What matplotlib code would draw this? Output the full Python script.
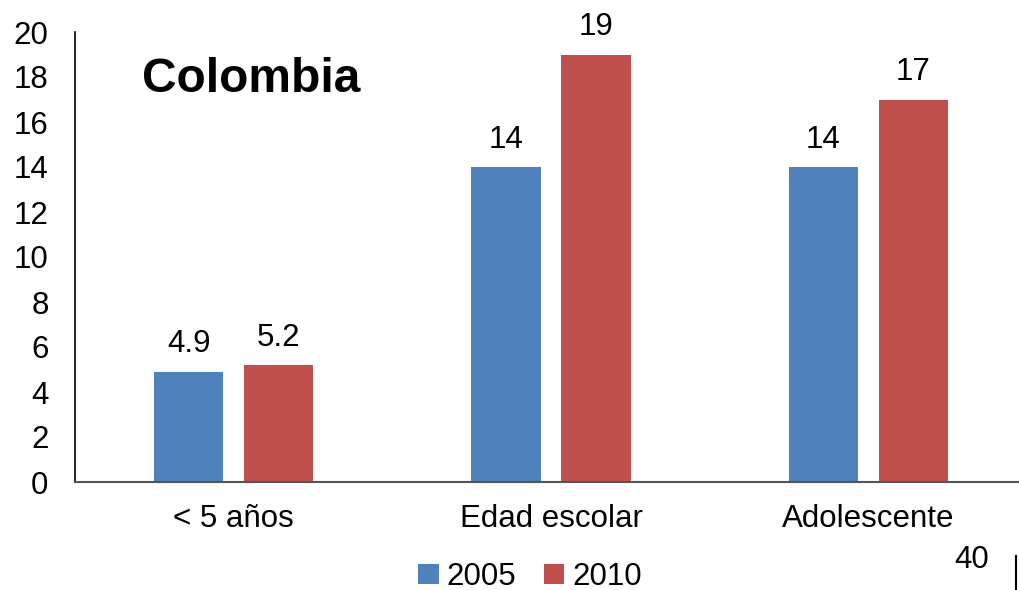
import matplotlib
matplotlib.use("Agg")
import matplotlib.pyplot as plt
import numpy as np

plt.rcParams['font.family'] = ['Liberation Sans', 'DejaVu Sans']

categories = ["< 5 años", "Edad escolar", "Adolescente"]
series_names = ["2005", "2010"]
values_2005 = [4.9, 14, 14]
values_2010 = [5.2, 19, 17]
labels_2005 = ["4.9", "14", "14"]
labels_2010 = ["5.2", "19", "17"]
colors = ["#4F81BD", "#C0504D"]

FS = 22.5
fig = plt.figure(figsize=(10.19, 5.90), dpi=100)
W, H = 1019, 590
ax = fig.add_axes([75 / W, 1 - 482 / H, 952 / W, 450 / H])

x = np.arange(len(categories))
bw = 0.218
off = 0.142
b1 = ax.bar(x - off, values_2005, bw, color=colors[0], label=series_names[0])
b2 = ax.bar(x + off, values_2010, bw, color=colors[1], label=series_names[1])

for bars, labs in ((b1, labels_2005), (b2, labels_2010)):
    for r, t in zip(bars, labs):
        ax.annotate(t, (r.get_x() + r.get_width() / 2, r.get_height()),
                    xytext=(0, 9), textcoords="offset points",
                    ha="center", va="bottom", fontsize=FS)

ax.set_xlim(-0.5, 2.5)
ax.set_ylim(0, 20)
ax.set_yticks(range(0, 21, 2))
ax.set_xticks(x)
ax.set_xticklabels(categories)
ax.tick_params(axis='both', length=0, labelsize=FS)
ax.tick_params(axis='x', pad=16)
ax.tick_params(axis='y', pad=19)
ax.spines['top'].set_visible(False)
ax.spines['right'].set_visible(False)
ax.spines['left'].set_color('black')
ax.spines['left'].set_linewidth(1.2)
ax.spines['bottom'].set_color('#555555')
ax.spines['bottom'].set_linewidth(1.5)

ax.text(142 / W, 1 - 80 / H, "Colombia", transform=fig.transFigure,
        fontsize=34.5, fontweight='bold', va='center', ha='left')

leg = fig.legend(loc='center', bbox_to_anchor=(530 / W, 1 - 577 / H), ncol=2,
                 frameon=False, fontsize=FS, handlelength=0.65, handleheight=0.65,
                 handletextpad=0.25, columnspacing=0.9)

fig.text(972 / W, 1 - 560 / H, "40", fontsize=FS, ha='center', va='center')
fig.add_artist(plt.Line2D([1016 / W, 1016 / W], [0, 1 - 556 / H],
                          color='black', lw=1.5, transform=fig.transFigure))

fig.savefig("out.png", dpi=100)
